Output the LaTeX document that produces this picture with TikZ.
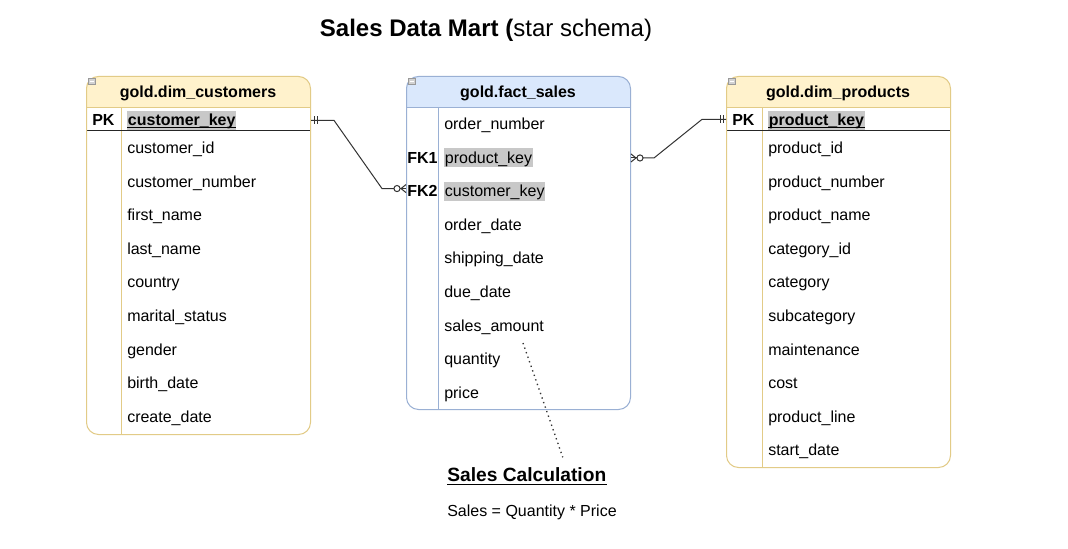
\documentclass[tikz,border=0pt]{standalone}
\usepackage{fontspec}
\setmainfont{Liberation Sans}
\usetikzlibrary{calc}
\definecolor{ylwF}{HTML}{FFF2CC}
\definecolor{ylwB}{HTML}{E2CB87}
\definecolor{bluF}{HTML}{DAE8FC}
\definecolor{bluB}{HTML}{9AB0D4}
\definecolor{hl}{HTML}{C8C8C8}
\definecolor{lnk}{HTML}{333333}
\begin{document}
\begin{tikzpicture}[x=0.75pt,y=-0.75pt,
  rowtxt/.style={font=\fontsize{12pt}{14pt}\selectfont, anchor=base west, inner sep=0pt},
  boldtxt/.style={font=\bfseries\fontsize{12pt}{14pt}\selectfont, anchor=base west, inner sep=0pt},
  keyhl/.style={fill=hl, anchor=base west, inner xsep=0.5pt, inner ysep=0pt, text height=11pt, text depth=3.3pt},
  keyrow/.style={keyhl, font=\fontsize{12pt}{14pt}\selectfont},
  pkkey/.style={keyhl, font=\bfseries\fontsize{12pt}{14pt}\selectfont},
  hdrtxt/.style={font=\bfseries\fontsize{12pt}{14pt}\selectfont, anchor=base, inner sep=0pt},
  tablebox/.style={rounded corners=9pt, inner sep=0pt, line width=0.75pt, anchor=north west},
  conn/.style={draw=lnk, line width=0.75pt},
  dots/.style={draw=lnk, line width=1pt, dash pattern=on 1pt off 2.6pt},
  icon/.style={draw=gray!80, fill=gray!35, line width=0.4pt}
]
\useasboundingbox (0,0) rectangle (1068,549);
\fill[white] (0,0) rectangle (1068,549);

% ---------------- Title ----------------
\node[font=\fontsize{18pt}{20pt}\selectfont, anchor=base, inner sep=0pt] (title) at (486,36.5) {\textbf{Sales Data Mart (}star schema)};

% ---------------- Left table: customers ----------------
\fill[white, rounded corners=9pt] (86,76) rectangle (310,434);
\begin{scope}
  \clip[rounded corners=9pt] (86,76) rectangle (310,434);
  \fill[ylwF] (86,76) rectangle (310,108);
\end{scope}
\draw[ylwB, line width=0.75pt] (86,108) -- (310,108);
\draw[ylwB, line width=0.75pt] (121,108) -- (121,434);
\draw[black!85, line width=0.75pt] (86,131) -- (310,131);
\node[tablebox, draw=ylwB, minimum width=168pt, minimum height=268.5pt] (cust) at (86,76) {};
\draw[icon] (88,78) rectangle (95,84);
\draw[white, line width=0.5pt] (89.5,81) -- (93.5,81);
\node[hdrtxt] (cust-h) at (198,97.5) {gold.dim\_customers};
\node[boldtxt] (cust-pk) at (92,125.5) {PK};
\node[pkkey] (c-key) at (127,125.5) {customer\_key};
\draw[black, line width=1pt] ($(c-key.base west)+(0,2.2)$) -- ($(c-key.base east)+(0,2.2)$);
\foreach \t [count=\i from 0] in {customer\_id, customer\_number, first\_name, last\_name, country, marital\_status, gender, birth\_date, create\_date}
  \node[rowtxt] (c-\i) at (127,{153.5+33.6*\i}) {\t};

% ---------------- Middle table: fact_sales ----------------
\fill[white, rounded corners=9pt] (406,76) rectangle (630,409);
\begin{scope}
  \clip[rounded corners=9pt] (406,76) rectangle (630,409);
  \fill[bluF] (406,76) rectangle (630,108);
\end{scope}
\draw[bluB, line width=0.75pt] (406,108) -- (630,108);
\draw[bluB, line width=0.75pt] (438,108) -- (438,409);
\node[tablebox, draw=bluB, minimum width=168pt, minimum height=249.75pt] (fact) at (406,76) {};
\draw[icon] (408,78) rectangle (415,84);
\draw[white, line width=0.5pt] (409.5,81) -- (413.5,81);
\node[hdrtxt] (fact-h) at (518,97.5) {gold.fact\_sales};
\foreach \t/\s [count=\i from 0] in {order\_number/rowtxt, product\_key/keyrow, customer\_key/keyrow, order\_date/rowtxt, shipping\_date/rowtxt, due\_date/rowtxt, sales\_amount/rowtxt, quantity/rowtxt, price/rowtxt}
  \node[\s] (f-\i) at (444,{129.5+33.6*\i}) {\t};
\node[boldtxt] (fk1) at (407,163.1) {FK1};
\node[boldtxt] (fk2) at (407,196.7) {FK2};

% ---------------- Right table: products ----------------
\fill[white, rounded corners=9pt] (726,76) rectangle (950,467);
\begin{scope}
  \clip[rounded corners=9pt] (726,76) rectangle (950,467);
  \fill[ylwF] (726,76) rectangle (950,108);
\end{scope}
\draw[ylwB, line width=0.75pt] (726,108) -- (950,108);
\draw[ylwB, line width=0.75pt] (762,108) -- (762,467);
\draw[black!85, line width=0.75pt] (726,131) -- (950,131);
\node[tablebox, draw=ylwB, minimum width=168pt, minimum height=293.25pt] (prod) at (726,76) {};
\draw[icon] (728,78) rectangle (735,84);
\draw[white, line width=0.5pt] (729.5,81) -- (733.5,81);
\node[hdrtxt] (prod-h) at (838,97.5) {gold.dim\_products};
\node[boldtxt] (prod-pk) at (732,125.5) {PK};
\node[pkkey] (p-key) at (768,125.5) {product\_key};
\draw[black, line width=1pt] ($(p-key.base west)+(0,2.2)$) -- ($(p-key.base east)+(0,2.2)$);
\foreach \t [count=\i from 0] in {product\_id, product\_number, product\_name, category\_id, category, subcategory, maintenance, cost, product\_line, start\_date}
  \node[rowtxt] (p-\i) at (768,{153.5+33.6*\i}) {\t};

% ---------------- Connector customers -> fact ----------------
\coordinate (cA) at (cust.east |- c-key);
\coordinate (fB) at ($(fact.west |- f-2)+(0,-3)$);
\draw[conn] (cA) -- ++(23,0) -- ($(fB)+(-24,0)$) -- ($(fB)+(-12,0)$);
\draw[conn] ($(cA)+(3,-4)$) -- ++(0,8);
\draw[conn] ($(cA)+(6,-4)$) -- ++(0,8);
\draw[conn] ($(fB)+(-9,0)$) circle[radius=2.3pt];
\draw[conn] ($(fB)+(-6,0)$) -- (fB);
\draw[conn] ($(fB)+(0,-4)$) -- ($(fB)+(-5,0)$) -- ($(fB)+(0,4)$);

% ---------------- Connector fact -> products ----------------
\coordinate (fP) at (fact.east |- f-1);
\coordinate (pA) at ($(prod.west |- p-key)+(0,-1)$);
\draw[conn] ($(fP)+(12,0)$) -- ++(11,0) -- ($(pA)+(-24,0)$) -- (pA);
\draw[conn] ($(pA)+(-3,-4)$) -- ++(0,8);
\draw[conn] ($(pA)+(-6,-4)$) -- ++(0,8);
\draw[conn] ($(fP)+(9,0)$) circle[radius=2.3pt];
\draw[conn] ($(fP)+(6,0)$) -- (fP);
\draw[conn] ($(fP)+(0,-4)$) -- ($(fP)+(5,0)$) -- ($(fP)+(0,4)$);

% ---------------- Sales calculation note ----------------
\node[font=\bfseries\fontsize{14.4pt}{16pt}\selectfont, anchor=base west, inner sep=0pt] (calc) at (447,481.5) {Sales Calculation};
\draw[black, line width=1.2pt] ($(calc.base west)+(0,3)$) -- ($(calc.base east)+(0,3)$);
\node[rowtxt] (formula) at (447,516) {Sales = Quantity * Price};
\coordinate (dA) at (523,343);
\draw[dots] (dA) -- ($(calc.north)+(36,-10)$);
\end{tikzpicture}
\end{document}
